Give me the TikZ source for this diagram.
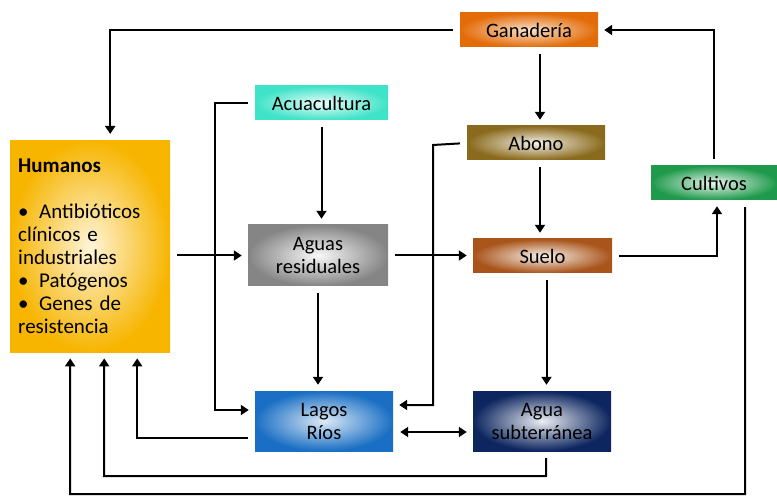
\documentclass[tikz,border=0pt]{standalone}
\usepackage{fontspec}
\setmainfont{Carlito}
\usetikzlibrary{arrows.meta}
\definecolor{humanoC}{HTML}{F7B500}
\definecolor{ganaC}{HTML}{E36C09}
\definecolor{acuaC}{HTML}{3FE3C8}
\definecolor{abonoC}{HTML}{8A6A1C}
\definecolor{cultC}{HTML}{1F9A4C}
\definecolor{aguasC}{HTML}{858585}
\definecolor{sueloC}{HTML}{A9541A}
\definecolor{lagosC}{HTML}{1A6FC4}
\definecolor{subtC}{HTML}{0D2660}
\begin{document}
\begin{tikzpicture}[x=1pt, y=-1pt,
    caja/.style={minimum width=138pt, minimum height=34pt, inner sep=3pt,
        font=\fontsize{20.5}{23}\selectfont, align=center},
    flecha/.style={line width=2pt, -{Triangle[length=8pt,width=10pt]},
        shorten <=7pt, shorten >=6pt}]
    \useasboundingbox (0,0) rectangle (777,497);
    % cajas
    \node[caja, anchor=north west, minimum width=160pt, minimum height=212pt,
        inner xsep=8pt, text width=144pt, align=left, font=\fontsize{21}{23}\selectfont,
        inner color=humanoC!15, outer color=humanoC] (hum) at (10,140)
        {\textbf{Humanos}\\[23pt] •\, Antibióticos\\ clínicos e\\ industriales\\
         •\, Patógenos\\ •\, Genes de\\ resistencia};
    \node[caja, inner color=ganaC!20, outer color=ganaC] (gan) at (529,30) {Ganadería};
    \node[caja, minimum width=133pt, inner color=acuaC!10, outer color=acuaC] (acu) at (321.5,103) {Acuacultura};
    \node[caja, inner color=abonoC!10, outer color=abonoC] (abo) at (536,143) {Abono};
    \node[caja, minimum width=126pt, inner color=cultC!10, outer color=cultC] (cul) at (714,183) {Cultivos};
    \node[caja, minimum width=140pt, minimum height=61pt, inner color=aguasC!5, outer color=aguasC] (agu) at (318,255.5) {Aguas\\ residuales};
    \node[caja, minimum width=139pt, inner color=sueloC!8, outer color=sueloC] (sue) at (542.5,256) {Suelo};
    \node[caja, minimum height=60pt, inner color=lagosC!15, outer color=lagosC] (lag) at (324,421) {Lagos\\ Ríos};
    \node[caja, minimum height=60pt, inner color=subtC!8, outer color=subtC] (sub) at (542,421) {Agua\\ subterránea};
    % puntos de giro
    \coordinate (giroA) at (215,103);
    \coordinate (giroB) at (433,145);
    % flechas
    \draw[flecha] (gan.west) -| ([xshift=20pt]hum.north);
    \draw[flecha] (cul.north) |- (gan.east);
    \draw[flecha] ([xshift=4pt]abo.north |- gan.south) -- ([xshift=4pt]abo.north);
    \draw[flecha] (acu.south) -- (acu.south |- agu.north);
    \draw[flecha] (acu.west) -- (giroA) |- ([yshift=11pt]lag.west);
    \draw[flecha] (abo.west) -- (giroB) |- ([yshift=16pt]lag.east);
    \draw[flecha] ([xshift=4pt]abo.south) -- ([xshift=4pt]abo.south |- sue.north);
    \draw[flecha] (agu.west -| hum.east) -- (agu.west);
    \draw[flecha] (agu.east) -- (agu.east -| sue.west);
    \draw[flecha] (sue.east) -| ([xshift=3pt]cul.south);
    \draw[flecha] (agu.south) -- (agu.south |- lag.north);
    \draw[flecha] ([xshift=4pt]sue.south) -- ([xshift=4pt]sue.south |- sub.north);
    \draw[flecha, {Triangle[length=8pt,width=10pt]}-{Triangle[length=8pt,width=10pt]}]
        ([yshift=-11pt]lag.east) -- ([yshift=-11pt]lag.east -| sub.west);
    \draw[flecha] ([yshift=-17pt]lag.west) -| ([xshift=47pt]hum.south);
    \draw[flecha] ([xshift=4pt]sub.south) |- (104,476) -- ([xshift=14pt]hum.south);
    \draw[flecha] ([xshift=31pt]cul.south) |- (70,494) -- ([xshift=-20pt]hum.south);
\end{tikzpicture}
\end{document}
